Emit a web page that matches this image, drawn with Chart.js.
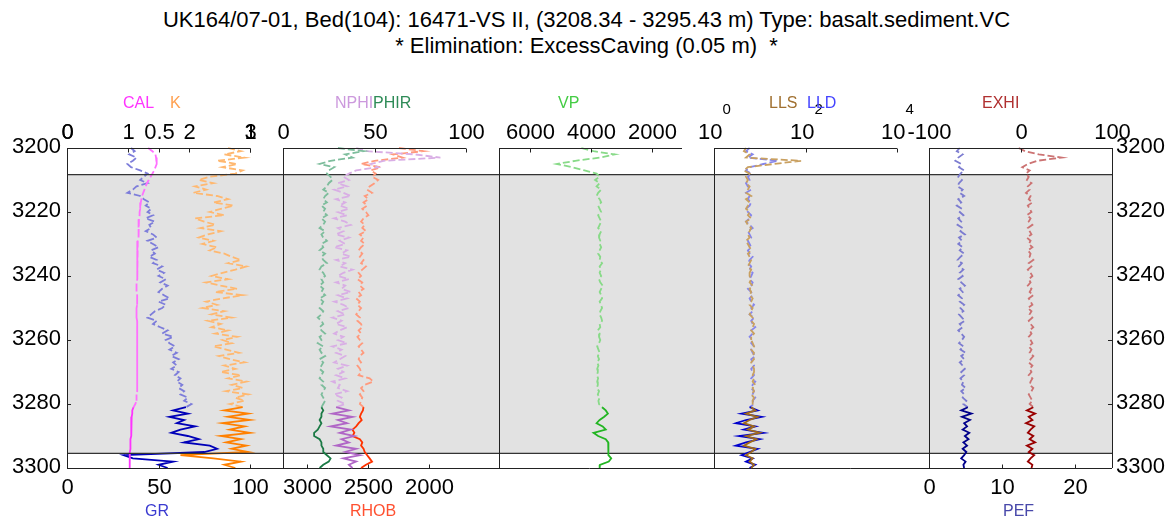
<!DOCTYPE html>
<html>
<head>
  <title>UK164/07-01 log</title>
  <script src="https://cdn.jsdelivr.net/npm/chart.js"></script>
  <style>
    body { margin: 0; background: #fff; }
    #wrap { position: relative; width: 1173px; height: 519px; overflow: hidden; }
    #wrap canvas { position: absolute; left: 0; top: 0; }
    .title {
      position: absolute; left: 0; width: 1173px; text-align: center;
      font: 22px "Liberation Sans", Arial, sans-serif; line-height: 26px;
      white-space: pre; color: #000;
    }
  </style>
</head>
<body>
  <div id="wrap">
    <div class="title" style="top:7px">UK164/07-01, Bed(104): 16471-VS II, (3208.34 - 3295.43 m) Type: basalt.sediment.VC</div>
    <div class="title" style="top:33px">* Elimination: ExcessCaving (0.05 m)  *</div>
    <canvas id="track1" width="1173" height="519"></canvas>
    <canvas id="track2" width="1173" height="519"></canvas>
    <canvas id="track3" width="1173" height="519"></canvas>
    <canvas id="track4" width="1173" height="519"></canvas>
    <canvas id="track5" width="1173" height="519"></canvas>
  </div>

  <script>
    // depth (m), one sample per metre
    const DEPTH = [
      3200, 3201, 3202, 3203, 3204, 3205, 3206, 3207, 3208, 3209,
      3210, 3211, 3212, 3213, 3214, 3215, 3216, 3217, 3218, 3219,
      3220, 3221, 3222, 3223, 3224, 3225, 3226, 3227, 3228, 3229,
      3230, 3231, 3232, 3233, 3234, 3235, 3236, 3237, 3238, 3239,
      3240, 3241, 3242, 3243, 3244, 3245, 3246, 3247, 3248, 3249,
      3250, 3251, 3252, 3253, 3254, 3255, 3256, 3257, 3258, 3259,
      3260, 3261, 3262, 3263, 3264, 3265, 3266, 3267, 3268, 3269,
      3270, 3271, 3272, 3273, 3274, 3275, 3276, 3277, 3278, 3279,
      3280, 3281, 3282, 3283, 3284, 3285, 3286, 3287, 3288, 3289,
      3290, 3291, 3292, 3293, 3294, 3295, 3296, 3297, 3298, 3299,
      3300
    ];

    const GR = [
      35, 37, 34, 38, 36, 33, 35, 40, 44, 42,
      40, 44, 38, 36, 33, 40, 42, 45, 43, 46,
      44, 47, 43, 48, 45, 46, 43, 47, 49, 44,
      47, 50, 46, 48, 45, 49, 47, 52, 49, 53,
      50, 54, 51, 55, 52, 50, 53, 56, 50, 54,
      52, 48, 46, 44, 49, 47, 51, 55, 52, 58,
      54, 56, 59, 56, 60, 57, 61, 58, 60, 57,
      61, 59, 62, 60, 63, 61, 64, 62, 66, 64,
      68, 65, 58, 66, 56, 64, 60, 70, 62, 57,
      66, 72, 64, 78, 82, 75, 31, 36, 58, 50,
      55
    ];
    const CAL = [
      1.33, 1.40, 1.45, 1.46, 1.47, 1.47, 1.45, 1.43, 1.40, 1.37,
      1.34, 1.31, 1.29, 1.27, 1.25, 1.23, 1.22, 1.21, 1.20, 1.20,
      1.19, 1.19, 1.18, 1.18, 1.18, 1.17, 1.17, 1.17, 1.17, 1.16,
      1.16, 1.16, 1.16, 1.15, 1.15, 1.15, 1.15, 1.15, 1.15, 1.15,
      1.15, 1.15, 1.14, 1.14, 1.14, 1.14, 1.15, 1.15, 1.15, 1.15,
      1.14, 1.14, 1.14, 1.14, 1.15, 1.15, 1.16, 1.16, 1.15, 1.15,
      1.15, 1.15, 1.15, 1.15, 1.15, 1.15, 1.15, 1.15, 1.15, 1.15,
      1.15, 1.15, 1.15, 1.15, 1.15, 1.15, 1.15, 1.14, 1.14, 1.14,
      1.12, 1.09, 1.07, 1.07, 1.06, 1.06, 1.06, 1.05, 1.05, 1.05,
      1.05, 1.04, 1.04, 1.04, 1.04, 1.03, 1.02, 1.03, 1.03, 1.03,
      1.03
    ];
    const K = [
      0.88, 0.95, 0.86, 0.97, 0.82, 0.93, 0.85, 0.96, 0.92, 0.78,
      0.72, 0.80, 0.70, 0.76, 0.69, 0.82, 0.88, 0.80, 0.91, 0.84,
      0.78, 0.86, 0.70, 0.75, 0.81, 0.73, 0.84, 0.77, 0.72, 0.80,
      0.74, 0.82, 0.78, 0.86, 0.90, 0.95, 0.88, 0.98, 0.92, 0.85,
      0.79, 0.88, 0.76, 0.84, 0.93, 0.81, 0.96, 0.85, 0.76, 0.82,
      0.74, 0.86, 0.79, 0.90, 0.77, 0.84, 0.79, 0.88, 0.81, 0.93,
      0.85, 0.90, 0.80, 0.87, 0.94, 0.83, 0.89, 0.97, 0.86, 0.92,
      0.84, 0.95, 0.88, 0.98, 0.90, 0.96, 0.87, 0.99, 0.92, 0.97,
      0.89, 0.96, 0.86, 0.99, 0.88, 1.00, 0.85, 0.97, 0.89, 1.00,
      0.84, 0.95, 0.87, 0.98, 0.90, 0.99, 0.62, 0.80, 0.95, 0.86,
      0.92
    ];
    const NPHI = [
      40, 46, 72, 86, 55, 48, 52, 40, 36, 33,
      36, 30, 35, 28, 33, 37, 29, 34, 31, 36,
      30, 35, 28, 34, 37, 30, 33, 29, 36, 31,
      34, 28, 35, 32, 37, 29, 34, 31, 38, 33,
      30, 36, 29, 34, 32, 37, 30, 35, 28, 33,
      36, 30, 34, 27, 32, 29, 35, 31, 28, 33,
      30, 35, 27, 32, 29, 34, 31, 28, 35, 30,
      33, 29, 34, 27, 31, 30, 35, 28, 32, 30,
      34, 29, 36, 27, 38, 30, 35, 26, 37, 31,
      39, 32, 36, 29, 40, 34, 42, 33, 40, 36,
      38
    ];
    const PHIR = [
      30, 44, 34, 38, 26, 20, 28, 25, 24, 26,
      27, 25, 24, 22, 25, 23, 22, 24, 21, 23,
      22, 24, 21, 23, 22, 20, 23, 21, 22, 24,
      21, 22, 20, 23, 21, 22, 24, 21, 20, 22,
      23, 21, 22, 20, 22, 21, 23, 20, 22, 21,
      20, 22, 21, 19, 21, 22, 20, 21, 23, 20,
      21, 19, 22, 20, 21, 23, 20, 22, 21, 20,
      22, 21, 20, 22, 21, 23, 22, 21, 22, 23,
      22, 21, 22, 21, 21, 20, 21, 20, 19, 17,
      17, 20, 21, 21, 22, 22, 24, 26, 25, 22,
      20
    ];
    const RHOB = [
      2250, 2050, 2300, 2220, 2450, 2560, 2400, 2480, 2440, 2470,
      2420, 2450, 2490, 2510, 2470, 2530, 2500, 2540, 2510, 2550,
      2520, 2500, 2540, 2560, 2530, 2550, 2520, 2570, 2540, 2560,
      2530, 2560, 2580, 2550, 2570, 2540, 2560, 2520, 2550, 2580,
      2560, 2590, 2550, 2570, 2540, 2580, 2560, 2600, 2570, 2590,
      2560, 2580, 2600, 2570, 2590, 2560, 2550, 2580, 2560, 2590,
      2570, 2550, 2580, 2560, 2540, 2570, 2580, 2560, 2590, 2570,
      2560, 2580, 2490, 2460, 2530, 2560, 2540, 2570, 2550, 2560,
      2570, 2540, 2545, 2560, 2570, 2555, 2580, 2600, 2630, 2615,
      2630, 2570, 2550, 2560, 2540, 2530, 2510, 2490, 2470, 2520,
      2560
    ];
    const VP = [
      4300, 3900, 3200, 3700, 4500, 5100, 4600, 4200, 3800, 3700,
      3850, 3700, 3800, 3650, 3750, 3800, 3700, 3650, 3750, 3700,
      3650, 3750, 3700, 3650, 3700, 3750, 3650, 3700, 3720, 3680,
      3700, 3650, 3700, 3750, 3680, 3700, 3620, 3700, 3660, 3700,
      3650, 3720, 3680, 3600, 3650, 3700, 3650, 3620, 3700, 3660,
      3620, 3680, 3700, 3650, 3620, 3700, 3680, 3760, 3700, 3720,
      3680, 3720, 3780, 3740, 3700, 3760, 3720, 3780, 3740, 3780,
      3760, 3790, 3750, 3780, 3760, 3790, 3720, 3760, 3700, 3740,
      3720, 3620, 3500, 3430, 3550, 3700, 3800, 3600, 3500, 3900,
      3750, 3500, 3420, 3420, 3410, 3420, 3400, 3320, 3400, 3690,
      3700
    ];
    const LLS = [
      5, 4.5, 6, 5, 80, 20, 5.5, 4.5, 6, 5,
      5.5, 5, 6, 5.5, 5, 6.5, 5, 6, 5.5, 5,
      6, 5.5, 6.5, 5, 5.5, 6.5, 6, 5.5, 6, 5,
      5.5, 6, 6.5, 5.5, 6, 6.5, 6, 5.5, 6.5, 6,
      6, 6.5, 6, 7, 6, 6.5, 6, 7, 6.5, 6,
      7, 6.5, 6, 7, 6.5, 7.5, 7, 6.5, 7.5, 6.5,
      6.5, 7, 7.5, 6.5, 7.5, 7, 7.5, 6.5, 7, 7.5,
      7.5, 7, 7.5, 7, 8, 7, 7.5, 6.5, 7.5, 7,
      7, 6.5, 8, 5, 9, 6, 4.5, 7.5, 5.5, 10,
      5, 8.5, 6, 4.5, 8, 6.5, 5, 7, 6, 7.5,
      6.5
    ];
    const LLD = [
      6, 5, 7, 5.5, 25, 12, 6, 5, 6.5, 5.5,
      6, 5, 5.5, 6.5, 5, 6, 5.5, 6.5, 6, 5,
      5.5, 6.5, 6, 5, 6, 7, 5.5, 6, 6.5, 5.5,
      6, 6.5, 5.5, 6, 7, 6, 5.5, 6.5, 6, 7,
      6.5, 6, 7, 6.5, 5.5, 6.5, 7, 6, 6.5, 7.5,
      6.5, 7, 6, 7.5, 6.5, 7, 8, 6.5, 7, 6,
      7, 6.5, 7.5, 6.5, 7, 8, 6.5, 7, 7.5, 6.5,
      7, 7.5, 6.5, 8, 7, 6.5, 7.5, 7, 8, 7,
      7.5, 6, 9, 4, 11, 5, 3, 8, 4.5, 12,
      3.5, 10, 5, 3, 9, 6, 4, 7, 5, 8,
      6
    ];
    const EXHI = [
      -2, 5, 20, 45, 18, 8, 2, 10, 6, 9,
      7, 12, 8, 10, 6, 11, 9, 13, 8, 10,
      12, 7, 11, 9, 13, 8, 10, 12, 7, 11,
      9, 13, 8, 11, 10, 14, 9, 12, 8, 11,
      13, 9, 11, 8, 12, 10, 14, 9, 11, 13,
      8, 12, 10, 13, 9, 11, 14, 10, 12, 9,
      11, 13, 9, 12, 10, 14, 11, 9, 13, 10,
      12, 9, 13, 11, 10, 14, 12, 9, 11, 13,
      10, 14, 7, 16, 9, 13, 6, 15, 11, 8,
      14, 10, 16, 7, 13, 9, 15, 11, 8, 13,
      12
    ];
    const PEF = [
      4.2, 3.8, 4.6, 4.0, 3.6, 4.4, 4.1, 4.8, 4.3, 4.0,
      4.5, 4.1, 3.9, 4.6, 4.2, 4.8, 4.0, 4.4, 3.8, 4.5,
      4.2, 4.7, 4.0, 4.4, 3.9, 4.6, 4.3, 4.9, 4.1, 4.5,
      4.0, 4.6, 4.2, 4.8, 4.3, 3.9, 4.5, 4.1, 4.7, 4.2,
      4.6, 4.0, 4.4, 4.9, 4.2, 4.6, 4.0, 4.5, 4.2, 4.8,
      4.3, 4.7, 4.1, 4.5, 4.9, 4.2, 4.6, 4.0, 4.4, 4.8,
      4.5, 4.1, 4.7, 4.3, 5.0, 4.4, 4.8, 4.2, 4.6, 4.9,
      4.4, 4.8, 4.3, 4.7, 4.5, 5.0, 4.4, 4.8, 4.6, 5.1,
      4.7, 5.3, 4.4, 5.8, 4.5, 5.6, 4.8, 5.2, 4.6, 5.5,
      4.9, 5.4, 4.7, 5.2, 4.6, 5.1, 4.8, 4.4, 5.0, 4.7,
      4.8
    ];

    // tick values
    const DEPTH_TICKS = [3200, 3220, 3240, 3260, 3280, 3300];
    const CAL_TICKS = [0, 1, 2, 3];
    const K_TICKS = [0, 0.5, 1];
    const GR_TICKS = [0, 50, 100];
    const POR_TICKS = [0, 50, 100];
    const RHOB_TICKS = [3000, 2500, 2000];
    const VP_TICKS = [6000, 4000, 2000];
    const RES_TICKS = [1, 100, 10000];
    const EXHI_TICKS = [-100, 0, 100];
    const PEF_TICKS = [0, 10, 20];

    // interval that is shaded (bed) and where the good data starts
    const BED_TOP = 3208.34;
    const BED_BOTTOM = 3295.43;
    const SOLID_FROM = 3281;

    const W = 1173, H = 519;
    const PLOT_TOP = 148, PLOT_BOTTOM = 468;
    const SCALE_W = 183;
    const FRAME_LEFT = 67, FRAME_RIGHT = 1112;
    const FONT = '"Liberation Sans", Arial, sans-serif';

    const TRACKS = [
      {
        canvas: 'track1', left: 67,
        scales: { gr: [0, 100], cal: [0, 3], k: [0, 1] },
        curves: [
          { label: 'CAL', data: CAL, axis: 'cal', light: '#ff70ff', dark: '#ff33ff' },
          { label: 'K', data: K, axis: 'k', light: '#ffb870', dark: '#ff8000' },
          { label: 'GR', data: GR, axis: 'gr', light: '#7d7dda', dark: '#0000b8' }
        ],
        top: [{ axis: 'cal', ticks: CAL_TICKS }, { axis: 'k', ticks: K_TICKS }],
        bottom: [{ axis: 'gr', ticks: GR_TICKS }],
        names: [
          { text: 'CAL', x: 123, color: '#ff33ff', pos: 'top' },
          { text: 'K', x: 170, color: '#ffa050', pos: 'top' },
          { text: 'GR', x: 145, color: '#3a3ad0', pos: 'bottom' }
        ]
      },
      {
        canvas: 'track2', left: 283,
        scales: { nphi: [0, 100], phir: [0, 100], rhob: [1700, 3200, true] },
        curves: [
          { label: 'PHIR', data: PHIR, axis: 'phir', light: '#7dbd9c', dark: '#1b7a45' },
          { label: 'NPHI', data: NPHI, axis: 'nphi', light: '#d9aee5', dark: '#b066c6' },
          { label: 'RHOB', data: RHOB, axis: 'rhob', light: '#ff9a7d', dark: '#ff3300' }
        ],
        top: [{ axis: 'phir', ticks: POR_TICKS }],
        bottom: [{ axis: 'rhob', ticks: RHOB_TICKS }],
        names: [
          { text: 'NPHI', x: 335, color: '#cc99dd', pos: 'top' },
          { text: 'PHIR', x: 373, color: '#2e8b57', pos: 'top' },
          { text: 'RHOB', x: 350, color: '#ff5030', pos: 'bottom' }
        ]
      },
      {
        canvas: 'track3', left: 499,
        scales: { vp: [1000, 7000, true] },
        curves: [
          { label: 'VP', data: VP, axis: 'vp', light: '#88da88', dark: '#22b522' }
        ],
        top: [{ axis: 'vp', ticks: VP_TICKS }],
        bottom: [],
        names: [{ text: 'VP', x: 558, color: '#44cc44', pos: 'top' }]
      },
      {
        canvas: 'track4', left: 714,
        scales: { res: [1, 10000, false, 'logarithmic'] },
        curves: [
          { label: 'LLS', data: LLS, axis: 'res', light: '#c9a060', dark: '#a06a1a' },
          { label: 'LLD', data: LLD, axis: 'res', light: '#8686ec', dark: '#0000cc' }
        ],
        top: [{ axis: 'res', ticks: RES_TICKS, pow10: true }],
        bottom: [],
        names: [
          { text: 'LLS', x: 769, color: '#a07030', pos: 'top' },
          { text: 'LLD', x: 807, color: '#4444ff', pos: 'top' }
        ]
      },
      {
        canvas: 'track5', left: 929, last: true,
        scales: { exhi: [-100, 100], pef: [0, 25] },
        curves: [
          { label: 'PEF', data: PEF, axis: 'pef', light: '#7c7cd0', dark: '#00008b' },
          { label: 'EXHI', data: EXHI, axis: 'exhi', light: '#cc7373', dark: '#990000' }
        ],
        top: [{ axis: 'exhi', ticks: EXHI_TICKS }],
        bottom: [{ axis: 'pef', ticks: PEF_TICKS }],
        names: [
          { text: 'EXHI', x: 982, color: '#b03030', pos: 'top' },
          { text: 'PEF', x: 1003, color: '#4848aa', pos: 'bottom' }
        ]
      }
    ];

    function text(ctx, str, x, y, color, size, align) {
      ctx.font = size + 'px ' + FONT;
      ctx.fillStyle = color;
      ctx.textAlign = align;
      ctx.textBaseline = 'middle';
      ctx.fillText(str, x, y);
    }

    function line(ctx, x0, y0, x1, y1, color, width) {
      ctx.strokeStyle = color;
      ctx.lineWidth = width;
      ctx.beginPath();
      ctx.moveTo(x0, y0);
      ctx.lineTo(x1, y1);
      ctx.stroke();
    }

    function drawTicks(ctx, scale, spec, yLine, dir, labelY) {
      spec.ticks.forEach(v => {
        const x = Math.round(scale.getPixelForValue(v)) + 0.5;
        line(ctx, x, yLine, x, yLine + dir * 4, '#222', 1);
        if (spec.pow10) {
          const exp = String(Math.round(Math.log10(v)));
          ctx.font = '22px ' + FONT;
          const w1 = ctx.measureText('10').width;
          ctx.font = '15px ' + FONT;
          const w2 = ctx.measureText(exp).width;
          const x0 = x - (w1 + w2) / 2;
          text(ctx, '10', x0, labelY, '#000', 22, 'left');
          text(ctx, exp, x0 + w1, labelY - 23, '#000', 15, 'left');
        } else {
          text(ctx, String(v), x, labelY, '#000', 22, 'center');
        }
      });
    }

    function trackPlugin(track, first) {
      return {
        id: 'frame_' + track.canvas,
        beforeDatasetsDraw(chart) {
          if (!first) return;
          const ctx = chart.ctx, y = chart.scales.y;
          const y0 = y.getPixelForValue(BED_TOP), y1 = y.getPixelForValue(BED_BOTTOM);
          ctx.save();
          ctx.fillStyle = '#e2e2e2';
          ctx.fillRect(FRAME_LEFT, y0, FRAME_RIGHT - FRAME_LEFT, y1 - y0);
          ctx.restore();
        },
        afterDraw(chart) {
          const ctx = chart.ctx, a = chart.chartArea, y = chart.scales.y;
          const top = y.getPixelForValue(3200), bot = y.getPixelForValue(3300);
          ctx.save();
          if (first) {
            const y0 = y.getPixelForValue(BED_TOP), y1 = y.getPixelForValue(BED_BOTTOM);
            line(ctx, FRAME_LEFT, y0, FRAME_RIGHT, y0, '#333', 1.3);
            line(ctx, FRAME_LEFT, y1, FRAME_RIGHT, y1, '#333', 1.3);
            line(ctx, FRAME_LEFT, bot + 0.5, FRAME_RIGHT, bot + 0.5, '#222', 1);
            DEPTH_TICKS.forEach(d => {
              const py = y.getPixelForValue(d);
              line(ctx, a.left, Math.round(py) + 0.5, a.left + 4, Math.round(py) + 0.5, '#222', 1);
              text(ctx, String(d), a.left - 6, py - 1, '#000', 22, 'right');
            });
          }
          if (track.last) {
            line(ctx, a.right + 0.5, top, a.right + 0.5, bot, '#222', 1);
            DEPTH_TICKS.forEach(d => {
              const py = y.getPixelForValue(d);
              line(ctx, a.right, Math.round(py) + 0.5, a.right - 4, Math.round(py) + 0.5, '#222', 1);
              text(ctx, String(d), a.right + 4, py - 1, '#000', 22, 'left');
            });
          }
          // panel left edge and top axis line
          line(ctx, a.left + 0.5, top, a.left + 0.5, bot, '#222', 1);
          line(ctx, a.left, top + 0.5, a.right, top + 0.5, '#222', 1);
          track.top.forEach(s => drawTicks(ctx, chart.scales[s.axis], s, top + 0.5, 1, top - 15.5));
          track.bottom.forEach(s => drawTicks(ctx, chart.scales[s.axis], s, bot + 0.5, -1, bot + 19.5));
          track.names.forEach(n => {
            const ny = n.pos === 'top' ? top - 44.5 : bot + 43.5;
            text(ctx, n.text, n.x, ny, n.color, 16, 'left');
          });
          ctx.restore();
        }
      };
    }

    TRACKS.forEach((track, ti) => {
      const scales = {
        y: { type: 'linear', min: 3200, max: 3300, reverse: true, display: false }
      };
      Object.keys(track.scales).forEach(id => {
        const s = track.scales[id];
        scales[id] = {
          axis: 'x', position: 'top', display: false,
          type: s[3] || 'linear', min: s[0], max: s[1], reverse: !!s[2]
        };
      });

      const datasets = track.curves.map(c => ({
        label: c.label,
        data: DEPTH.map((d, i) => ({ x: c.data[i], y: d })),
        xAxisID: c.axis,
        yAxisID: 'y',
        showLine: true,
        borderWidth: 1.8,
        borderColor: c.dark,
        pointRadius: 0,
        tension: 0,
        clip: false,
        segment: {
          borderColor: ctx => ctx.p0.parsed.y < SOLID_FROM ? c.light : c.dark,
          borderDash: ctx => ctx.p0.parsed.y < SOLID_FROM ? [7, 3] : undefined
        }
      }));

      new Chart(document.getElementById(track.canvas), {
        type: 'scatter',
        data: { datasets: datasets },
        options: {
          responsive: false,
          animation: false,
          layout: {
            padding: {
              left: track.left,
              right: W - track.left - SCALE_W,
              top: PLOT_TOP,
              bottom: H - PLOT_BOTTOM
            }
          },
          scales: scales,
          plugins: { legend: { display: false }, tooltip: { enabled: false } }
        },
        plugins: [trackPlugin(track, ti === 0)]
      });
    });
  </script>
</body>
</html>
